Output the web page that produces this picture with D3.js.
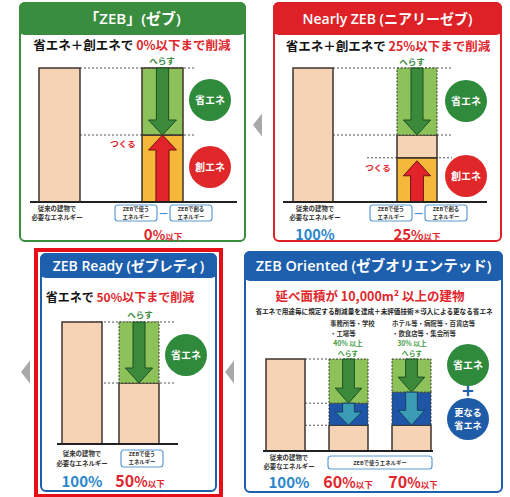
<!DOCTYPE html>
<html>
<head>
<meta charset="utf-8">
<script src="https://cdn.jsdelivr.net/npm/d3@7"></script>
<style>
  body { margin: 0; background: #fff; }
  svg { display: block; font-family: "Noto Sans CJK JP", "Noto Sans", sans-serif; font-weight: bold; }
</style>
</head>
<body>
<svg id="chart" width="510" height="497"></svg>
<script>
// ---- data ----
var panelTitles = ["「ZEB」(ゼブ)", "Nearly ZEB (ニアリーゼブ)", "ZEB Ready (ゼブレディ)", "ZEB Oriented (ゼブオリエンテッド)"];
var baseEnergy = 100;                     // 従来の建物で必要なエネルギー
// stacks, bottom up: [kind, share of base energy]
var zebStack = [["create", 50], ["save", 50]];
var nearlyStack = [["create", 33], ["use", 17], ["save", 50]];
var readyStack = [["use", 50], ["save", 50]];
var officeStack = [["use", 28], ["more", 24], ["save", 48]];
var hotelStack = [["use", 28], ["more", 36], ["save", 36]];
var resultValues = ["0", "25", "50", "60", "70"];
var savingLabels = ["40% 以上", "30% 以上"];
var buildingTypes = [["事務所等・学校", "・工場等"], ["ホテル等・病院等・百貨店等", "・飲食店等・集会所等"]];

var svg = d3.select("#chart");

var fills = { use: "#f5d3b4", create: "#f4b83a", save: "#8dc25a", more: "#1f55a7" };
var arrowFill = { save: "#3b8a3c", more: "#3a9cb5", create: "#e3232a" };
var arrowLine = { save: "#1d4f22", more: "#173f63", create: "#6e1212" };
var ink = "#3e342e";
var green = "#3a8c3f", red = "#de2027", blue = "#1d5fad", textBlue = "#2a86cc", textRed = "#e0262c";

// frame with coloured header band
function drawFrame(f, color, title, fs) {
  var g = svg.append("g");
  g.append("rect").attr("x", f.x).attr("y", f.y).attr("width", f.w).attr("height", f.h)
    .attr("rx", 5).attr("fill", "#fff").attr("stroke", color).attr("stroke-width", 2);
  g.append("rect").attr("x", f.x).attr("y", f.y).attr("width", f.w).attr("height", f.hh)
    .attr("rx", 5).attr("fill", color).attr("stroke", color).attr("stroke-width", 2);
  g.append("rect").attr("x", f.x - 1).attr("y", f.y + f.hh - 6).attr("width", f.w + 2).attr("height", 6)
    .attr("fill", color);
  g.append("text").attr("x", f.x + f.w / 2).attr("y", f.y + f.hh / 2 + fs * 0.36)
    .attr("text-anchor", "middle").attr("fill", "#fff").attr("font-size", fs)
    .style("font-family", "'Open Sans','Noto Sans CJK JP',sans-serif").style("font-weight", 600)
    .text(title);
  return g;
}

function arrowPath(cx, ya, yb, shaft, head, headLen) {
  var dir = yb > ya ? 1 : -1;
  var hl = Math.min(headLen, Math.abs(yb - ya) * 0.6);
  var yh = yb - dir * hl;
  return "M" + (cx - shaft / 2) + "," + ya + "L" + (cx - shaft / 2) + "," + yh +
    "L" + (cx - head / 2) + "," + yh + "L" + cx + "," + yb + "L" + (cx + head / 2) + "," + yh +
    "L" + (cx + shaft / 2) + "," + yh + "L" + (cx + shaft / 2) + "," + ya + "Z";
}

// bars, guides and arrows for one panel
function drawBars(p, bars) {
  var g = svg.append("g");
  var y = d3.scaleLinear().domain([0, baseEnergy]).range([p.base, p.top]);
  var step = (p.x1 - p.x0 - p.bw) / (bars.length - 1);
  var x = d3.scaleBand().domain(bars.map(function(b) { return b.name; }))
    .range([p.x0, p.x1]).paddingInner(1 - p.bw / step).paddingOuter(0);

  var segs = [];
  bars.forEach(function(b) {
    var acc = 0;
    b.stack.forEach(function(s) {
      segs.push({ bar: b.name, kind: s[0], v0: acc, v1: acc + s[1] });
      acc += s[1];
    });
  });

  // dotted guides from the stacks of the second bar
  var ref = segs.filter(function(s) { return s.bar === bars[1].name; });
  ref.forEach(function(s) {
    var from = (s.kind === "create" && p.createGuide) ? x(bars[1].name) - p.createGuide : p.guideFrom;
    g.append("line").attr("x1", from).attr("x2", p.guideTo)
      .attr("y1", y(s.v1)).attr("y2", y(s.v1))
      .attr("stroke", "#555").attr("stroke-width", 1).attr("stroke-dasharray", "2,2");
  });

  var dotted = function(d) { return (d.kind === "save" || d.kind === "more") && !p.solidSave; };
  g.selectAll("rect.seg").data(segs).enter().append("rect")
    .attr("class", "seg")
    .attr("x", function(d) { return x(d.bar); })
    .attr("width", x.bandwidth())
    .attr("y", function(d) { return y(d.v1); })
    .attr("height", function(d) { return y(d.v0) - y(d.v1); })
    .attr("fill", function(d) { return fills[d.kind]; })
    .attr("stroke", function(d) { return dotted(d) ? "#3a3a2a" : ink; })
    .attr("stroke-width", function(d) { return dotted(d) ? 1 : 1.5; })
    .attr("stroke-dasharray", function(d) { return dotted(d) ? "2,1.5" : null; });

  var arrows = segs.filter(function(s) { return s.kind !== "use"; });
  g.selectAll("path.arr").data(arrows).enter().append("path")
    .attr("class", "arr")
    .attr("d", function(d) {
      var cx = x(d.bar) + x.bandwidth() / 2, bw = x.bandwidth();
      if (d.kind === "create") return arrowPath(cx, y(d.v0), y(d.v1) + (p.createGap || 0), bw * 0.32, bw * 0.68, 15);
      return arrowPath(cx, y(d.v1), y(d.v0), bw * 0.3, bw * 0.68, 15);
    })
    .attr("fill", function(d) { return arrowFill[d.kind]; })
    .attr("stroke", function(d) { return arrowLine[d.kind]; })
    .attr("stroke-width", 1);

  g.append("line").attr("x1", p.lineFrom).attr("x2", p.lineTo)
    .attr("y1", p.base).attr("y2", p.base).attr("stroke", "#222").attr("stroke-width", 2);
  return g;
}

function circle(cx, cy, color, lines) {
  var fs = lines.length > 1 ? 9.2 : 10;
  svg.append("circle").attr("cx", cx).attr("cy", cy).attr("r", 21).attr("fill", color);
  lines.forEach(function(t, i) {
    svg.append("text").attr("x", cx).attr("y", cy + 3.5 + (i - (lines.length - 1) / 2) * 13.4)
      .attr("text-anchor", "middle").attr("fill", "#fff").attr("font-size", fs).text(t);
  });
}

function label(x, y, t, size, color, anchor) {
  return svg.append("text").attr("x", x).attr("y", y).attr("text-anchor", anchor || "middle")
    .attr("font-size", size).attr("fill", color || "#222").text(t);
}

function titleLine(x, y, black, redPart, size) {
  var t = svg.append("text").attr("x", x).attr("y", y).attr("text-anchor", "middle").attr("font-size", size);
  t.append("tspan").attr("fill", "#111").text(black);
  t.append("tspan").attr("fill", textRed).text(redPart);
}

function baseLabel(x, y) {
  label(x, y, "従来の建物で", 6.4, "#333");
  label(x, y + 9.5, "必要なエネルギー", 6.4, "#333");
}

function box(x0, x1, y0, y1, lines) {
  svg.append("rect").attr("x", x0).attr("y", y0).attr("width", x1 - x0).attr("height", y1 - y0)
    .attr("rx", 3).attr("fill", "#fff").attr("stroke", "#5b9bd5").attr("stroke-width", 1.2);
  lines.forEach(function(t, i) {
    label((x0 + x1) / 2, y0 + 6.3 + i * 8 + (lines.length === 1 ? 2.5 : 0), t, 5.4, "#333");
  });
}

function result(x, y, v, big) {
  var t = svg.append("text").attr("x", x).attr("y", y).attr("text-anchor", "middle").attr("fill", textRed);
  t.append("tspan").attr("font-size", big || 16).text(v);
  t.append("tspan").attr("font-size", (big || 16) - 2).text("%");
  t.append("tspan").attr("font-size", 8.5).text("以下");
}

function tri(x, cy) {
  svg.append("path").attr("d", "M" + x + "," + cy + "l9,-11.5v23z").attr("fill", "#a9a9a9");
}

// ---- panel 1 : ZEB ----
drawFrame({ x: 20, y: 3, w: 225, h: 238, hh: 31 }, green, panelTitles[0], 15);
titleLine(132, 50, "省エネ＋創エネで ", "0%以下まで削減", 12.5);
drawBars({ base: 202, top: 68, x0: 39, x1: 183, bw: 41, guideFrom: 80, guideTo: 194, solidSave: true,
  lineFrom: 30, lineTo: 237 },
  [{ name: "base", stack: [["use", baseEnergy]] }, { name: "zeb", stack: zebStack }]);
label(162, 64, "へらす", 8.5, green);
label(123, 147, "つくる", 8.5, textRed);
circle(210, 100, "#2f8a3c", ["省エネ"]);
circle(210, 167, "#e0282b", ["創エネ"]);
baseLabel(57, 210.5);
box(115, 157, 205, 221, ["ZEBで使う", "エネルギー"]);
label(163.5, 218, "－", 11, "#4a8fd0");
box(170, 212, 205, 221, ["ZEBで創る", "エネルギー"]);
result(163, 239.5, resultValues[0], 15);

// ---- panel 2 : Nearly ZEB ----
drawFrame({ x: 274, y: 3, w: 227, h: 238, hh: 31 }, red, panelTitles[1], 14);
titleLine(388, 51, "省エネ＋創エネで ", "25%以下まで削減", 12.5);
drawBars({ base: 202, top: 68, x0: 293, x1: 437, bw: 40, guideFrom: 333, guideTo: 452, createGuide: 30,
  createGap: 3, lineFrom: 283, lineTo: 487 },
  [{ name: "base", stack: [["use", baseEnergy]] }, { name: "nearly", stack: nearlyStack }]);
label(412, 65, "へらす", 8.5, green);
label(378, 171, "つくる", 8.5, textRed);
circle(466, 101, "#2f8a3c", ["省エネ"]);
circle(466, 176, "#e0282b", ["創エネ"]);
baseLabel(315, 210.5);
label(315, 239.5, "100%", 14.5, textBlue);
box(370, 412, 205, 221, ["ZEBで使う", "エネルギー"]);
label(418.5, 218, "－", 11, "#4a8fd0");
box(425, 467, 205, 221, ["ZEBで創る", "エネルギー"]);
result(417, 239.5, resultValues[1], 15);

tri(253, 125);

// ---- panel 3 : ZEB Ready ----
svg.append("rect").attr("x", 36).attr("y", 250).attr("width", 185).attr("height", 246)
  .attr("fill", "none").attr("stroke", "#e50f1a").attr("stroke-width", 4);
drawFrame({ x: 41, y: 254, w: 175, h: 237, hh: 23 }, blue, panelTitles[2], 14);
titleLine(120, 302, "省エネで ", "50%以下まで削減", 12);
drawBars({ base: 444, top: 322, x0: 62, x1: 159, bw: 40, guideFrom: 92, guideTo: 176,
  lineFrom: 57, lineTo: 178 },
  [{ name: "base", stack: [["use", baseEnergy]] }, { name: "ready", stack: readyStack }]);
label(140, 318, "へらす", 8.5, green);
circle(186, 355, "#2f8a3c", ["省エネ"]);
baseLabel(82, 456);
box(121, 163, 450, 467, ["ZEBで使う", "エネルギー"]);
label(82, 487, "100%", 15, textBlue);
result(140, 487, resultValues[2]);

tri(21, 372);
tri(225, 372);

// ---- panel 4 : ZEB Oriented ----
drawFrame({ x: 245, y: 252, w: 257, h: 240, hh: 28 }, blue, panelTitles[3], 14.5);
label(370, 301, "延べ面積が 10,000m² 以上の建物", 12.5, textRed);
label(374, 314, "省エネで用途毎に規定する削減量を達成＋未評価技術＊導入による更なる省エネ", 6.6, "#222");
label(330, 326, buildingTypes[0][0], 6.4, "#333", "start");
label(330, 335.5, buildingTypes[0][1], 6.4, "#333", "start");
label(392, 326, buildingTypes[1][0], 6.4, "#333", "start");
label(392, 335.5, buildingTypes[1][1], 6.4, "#333", "start");
drawBars({ base: 451, top: 359, x0: 266, x1: 431, bw: 39, guideFrom: 305, guideTo: 329,
  lineFrom: 263, lineTo: 433 },
  [{ name: "base", stack: [["use", baseEnergy]] }, { name: "office", stack: officeStack },
   { name: "hotel", stack: hotelStack }]);
label(348, 345.5, savingLabels[0], 6.8, "#3f9a45");
label(348, 355.5, "へらす", 6.8, "#3f9a45");
label(412, 345.5, savingLabels[1], 6.8, "#3f9a45");
label(412, 355.5, "へらす", 6.8, "#3f9a45");
circle(468, 365, "#2f8a3c", ["省エネ"]);
label(468, 398, "+", 20, blue);
circle(468, 419, "#1f5ca8", ["更なる", "省エネ"]);
baseLabel(289, 459.5);
box(328, 432, 456, 469, ["ZEBで使うエネルギー"]);
label(289, 488, "100%", 15, textBlue);
result(348, 488, resultValues[3]);
result(413, 488, resultValues[4]);
</script>
</body>
</html>
